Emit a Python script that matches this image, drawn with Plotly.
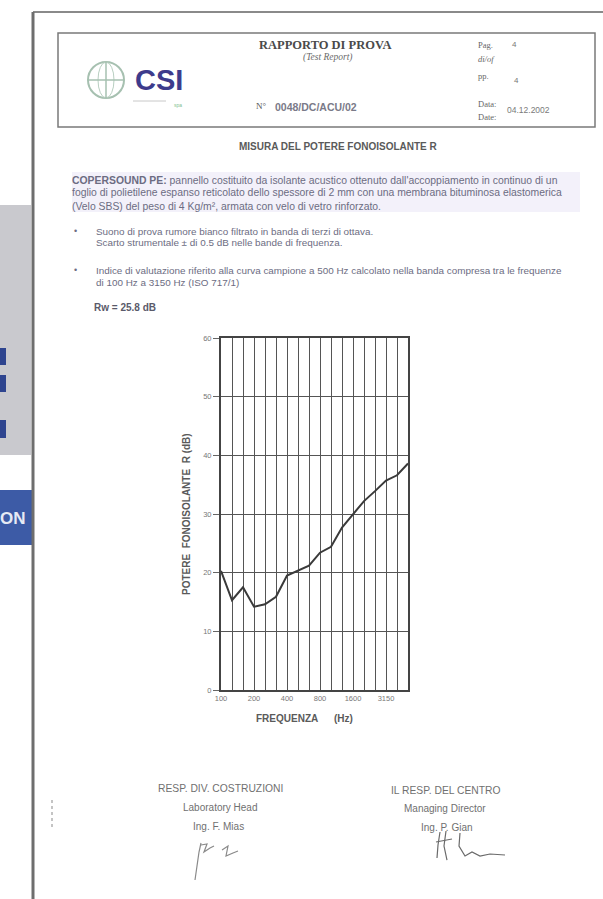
import plotly.graph_objects as go

# Third-octave band centre frequencies (Hz) and measured sound reduction index R (dB)
bands = ["100", "125", "160", "200", "250", "315", "400", "500", "630", "800",
         "1000", "1250", "1600", "2000", "2500", "3150", "4000", "5000"]
r_db = [20.3, 15.3, 17.5, 14.2, 14.6, 15.9, 19.5, 20.4, 21.2, 23.4,
        24.4, 27.7, 29.9, 32.2, 33.9, 35.7, 36.6, 38.6]
labelled_bands = ["100", "200", "400", "800", "1600", "3150"]
y_ticks = [0, 10, 20, 30, 40, 50, 60]

W, H = 603, 899


def px(x):
    return x / W


def py(y):
    return 1 - y / H


SANS = "Liberation Sans"
SERIF = "Liberation Serif"
TXT = "#6c6c82"

band_idx = list(range(len(bands)))
tick_text = [b if b in labelled_bands else "" for b in bands]

fig = go.Figure()
fig.add_trace(go.Scatter(
    x=band_idx, y=r_db, mode="lines",
    line=dict(color="#3a3a3a", width=2),
    showlegend=False, hoverinfo="skip",
))

shapes = []
annotations = []


def text(x, y, s, size=7, color=TXT, family=SANS, anchor="left", angle=0):
    # left-anchored labels get a small offset for the annotation padding
    xx = x - 3 if anchor == "left" else (x + 3 if anchor == "right" else x)
    annotations.append(dict(
        x=px(xx), y=py(y), xref="paper", yref="paper", text=s, showarrow=False,
        xanchor=anchor, yanchor="middle", textangle=angle,
        font=dict(family=family, size=size, color=color),
    ))


def line(x0, y0, x1, y1, color="#777", width=1, dash="solid"):
    shapes.append(dict(type="line", xref="paper", yref="paper",
                       x0=px(x0), y0=py(y0), x1=px(x1), y1=py(y1),
                       line=dict(color=color, width=width, dash=dash)))


def rect(x0, y0, x1, y1, fill=None, color=None, width=0):
    shapes.append(dict(type="rect", xref="paper", yref="paper",
                       x0=px(x0), y0=py(y0), x1=px(x1), y1=py(y1),
                       fillcolor=fill if fill else "rgba(0,0,0,0)",
                       line=dict(color=color if color else "rgba(0,0,0,0)", width=width),
                       layer="below"))


def path(points, color="#555", width=1.2):
    d = "M " + " L ".join(f"{px(a):.5f},{py(b):.5f}" for a, b in points)
    shapes.append(dict(type="path", xref="paper", yref="paper", path=d,
                       line=dict(color=color, width=width)))


# side panel of the neighbouring page
rect(-20, 205, 31, 455, fill="#c9c9ce")
rect(-20, 348, 6, 365, fill="#2e448f")
rect(-20, 375, 6, 392, fill="#2e448f")
rect(-20, 420, 6, 438, fill="#2e448f")
rect(-20, 490, 33, 545, fill="#3d5ba6")
text(1, 518, "<b>ON</b>", size=17, color="#e6eaf4")

# sheet edges
line(33, 12, 603, 12, color="#8a8a8a", width=2)
line(33, 12, 33, 899, color="#6e6e6e", width=3)

# header box
rect(58, 33, 595, 127, color="#7a7a7a", width=1.5)

# logo
shapes.append(dict(type="circle", xref="paper", yref="paper",
                   x0=px(88), x1=px(124), y0=py(98), y1=py(62),
                   line=dict(color="#a6c0b0", width=2)))
shapes.append(dict(type="circle", xref="paper", yref="paper",
                   x0=px(98), x1=px(114), y0=py(98), y1=py(62),
                   line=dict(color="#b8cfc1", width=1)))
line(88, 80, 124, 80, color="#a6c0b0", width=1.5)
line(106, 62, 106, 98, color="#a6c0b0", width=1.5)
text(159, 80, "<b>CSI</b>", size=29, color="#3d3b8c", anchor="center")
line(133, 101, 166, 101, color="#c8c8c8", width=1)
text(178, 105, "spa", size=5, color="#7fbf8f", anchor="center")

text(325, 45, "<b>RAPPORTO DI PROVA</b>", size=12.5, color="#4a4a4a", family=SERIF, anchor="center")
text(328, 58, "<i>(Test Report)</i>", size=9.5, color="#6a6a6a", family=SERIF, anchor="center")
text(257, 106, "N°", size=9, color="#555", family=SERIF)
text(276, 107, "<b>0048/DC/ACU/02</b>", size=10.5, color="#7a7a88")

text(479, 45, "Pag.", size=8.5, color="#666", family=SERIF)
text(513, 45, "4", size=8, color="#777")
text(479, 59, "<i>di/of</i>", size=8.5, color="#666", family=SERIF)
text(479, 76, "pp.", size=8.5, color="#666", family=SERIF)
text(515, 81, "4", size=8, color="#777")
text(479, 104, "Data:", size=8.5, color="#666", family=SERIF)
text(479, 117, "Date:", size=8.5, color="#666", family=SERIF)
text(508, 110, "04.12.2002", size=8.5, color="#7a7a7a")

text(338, 147, "<b>MISURA DEL POTERE FONOISOLANTE R</b>", size=10, color="#5a5a5a", anchor="center")

# description paragraph
rect(72, 172, 580, 212, fill="rgba(195,185,228,0.20)")
text(73, 180, "<b>COPERSOUND PE:</b> pannello costituito da isolante acustico ottenuto dall'accoppiamento in continuo di un",
     size=10.4, color=TXT)
text(73, 193, "foglio di polietilene espanso reticolato dello spessore di 2 mm con una membrana bituminosa elastomerica",
     size=10.4, color=TXT)
text(73, 206, "(Velo SBS) del peso di 4 Kg/m², armata con velo di vetro rinforzato.", size=10.4, color=TXT)

text(75, 231, "•", size=9, color=TXT)
text(97, 231, "Suono di prova rumore bianco filtrato in banda di terzi di ottava.", size=9.9, color=TXT)
text(97, 243, "Scarto strumentale ± di 0.5 dB nelle bande di frequenza.", size=9.9, color=TXT)
text(75, 270, "•", size=9, color=TXT)
text(97, 270, "Indice di valutazione riferito alla curva campione a 500 Hz calcolato nella banda compresa tra le frequenze",
     size=9.9, color=TXT)
text(97, 283, "di 100 Hz a 3150 Hz (ISO 717/1)", size=9.9, color=TXT)
text(95, 308, "<b>Rw = 25.8 dB</b>", size=10, color="#5a5a6a")

# chart titles
text(186, 514, "<b>POTERE  FONOISOLANTE  R (dB)</b>", size=10, color="#5a5a5a", anchor="center", angle=-90)
text(287, 718, "<b>FREQUENZA</b>", size=10, color="#5a5a5a", anchor="center")
text(343, 718, "<b>(Hz)</b>", size=10, color="#5a5a5a", anchor="center")

# signatures block
text(220, 788, "RESP. DIV. COSTRUZIONI", size=10.3, color="#707070", anchor="center")
text(220, 807, "Laboratory Head", size=10, color="#707070", anchor="center")
text(218, 826, "Ing. F. Mias", size=10, color="#707070", anchor="center")
text(445, 790, "IL RESP. DEL CENTRO", size=10.3, color="#707070", anchor="center")
text(445, 808, "Managing Director", size=10, color="#707070", anchor="center")
text(447, 827, "Ing. P. Gian", size=10, color="#707070", anchor="center")

path([(201, 843), (199, 852), (197, 866), (195, 880)], color="#8a8a8a")
path([(201, 845), (207, 844), (204, 852), (210, 848), (214, 846)], color="#8a8a8a")
path([(222, 850), (228, 846), (226, 856), (233, 853), (238, 851)], color="#8a8a8a")
path([(440, 832), (438, 845), (437, 858)], color="#6a6a6a")
path([(446, 831), (444, 846), (447, 860)], color="#6a6a6a")
path([(436, 842), (452, 839)], color="#6a6a6a")
path([(460, 833), (459, 846), (465, 856), (472, 852), (480, 856), (490, 854), (505, 855)], color="#6a6a6a")

line(52, 800, 52, 830, color="#c4c4c4", width=2, dash="dot")

fig.update_layout(
    width=W, height=H, autosize=False,
    margin=dict(l=0, r=0, t=0, b=0, pad=0),
    paper_bgcolor="white", plot_bgcolor="white",
    shapes=shapes, annotations=annotations,
    xaxis=dict(
        domain=[px(221), px(408)], range=[0, len(bands) - 1],
        tickmode="array", tickvals=band_idx, ticktext=tick_text,
        showgrid=True, gridcolor="#555555", gridwidth=1,
        showline=True, mirror=True, linecolor="#444444", linewidth=2,
        ticks="", zeroline=False, automargin=False,
        tickfont=dict(family=SANS, size=7.5, color="#777777"),
    ),
    yaxis=dict(
        domain=[py(690), py(338)], range=[0, 60],
        tickmode="array", tickvals=y_ticks,
        showgrid=True, gridcolor="#555555", gridwidth=1,
        showline=True, mirror=True, linecolor="#444444", linewidth=2,
        ticks="outside", ticklen=6, tickcolor="#666666", zeroline=False, automargin=False,
        tickfont=dict(family=SANS, size=7.5, color="#777777"),
    ),
)

fig.write_html("out.html")
